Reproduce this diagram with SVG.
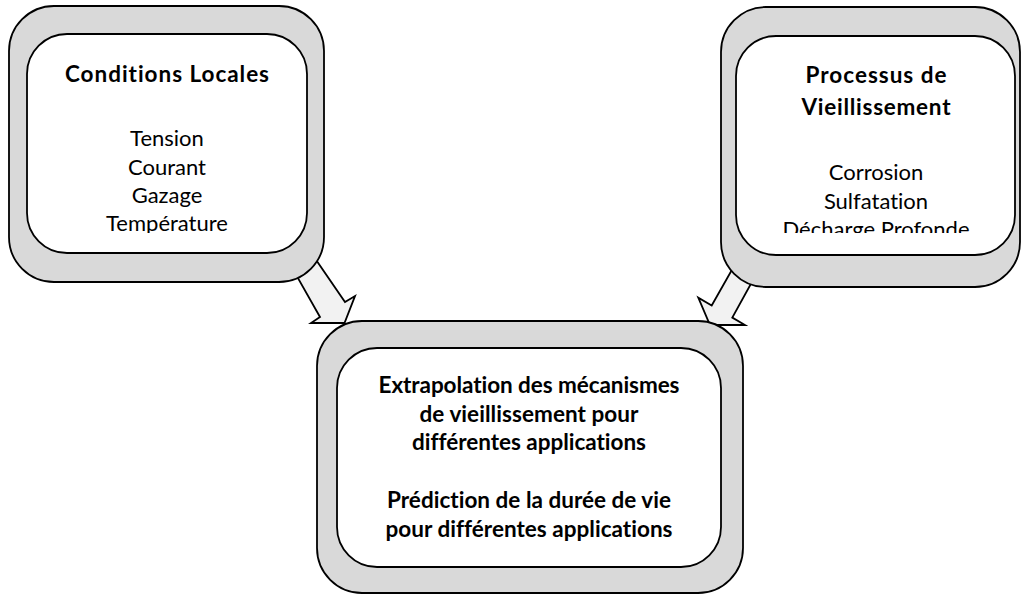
<svg xmlns="http://www.w3.org/2000/svg" width="1022" height="594" viewBox="0 0 1022 594">
  <style>
    .outer { fill: #d9d9d9; stroke: #000; stroke-width: 1.8; }
    .inner { fill: #ffffff; stroke: #000; stroke-width: 1.8; }
    .arrow { fill: #f2f2f2; stroke: #000; stroke-width: 1.8; stroke-linejoin: miter; }
    text { font-family: Lato, "Open Sans", "Liberation Sans", sans-serif; font-size: 22px; fill: #000; text-anchor: middle; font-variant-ligatures: none; }
    .b { font-weight: bold; font-size: 22.5px; }
  </style>
  <defs>
    <clipPath id="clipL"><rect x="27" y="34" width="280" height="199"/></clipPath>
    <clipPath id="clipR"><rect x="736" y="36" width="279" height="197"/></clipPath>
  </defs>
  <rect width="1022" height="594" fill="#ffffff"/>

  <g id="connectors">
    <polygon class="arrow" points="286.8,258.4 320,317 311,323 344.5,323 355,296 345,302 306.8,246.4"/>
    <polygon class="arrow" points="741.7,252.6 711.7,305.5 698.3,297.7 710,325 745,325 732.3,317.6 761.7,264.3"/>
  </g>

  <g id="node-conditions">
    <rect class="outer" x="9" y="6" width="315" height="276" rx="45" ry="45"/>
    <rect class="inner" x="27" y="34" width="280" height="219" rx="40" ry="40"/>
    <g clip-path="url(#clipL)">
      <text class="b" x="167" y="82" textLength="204">Conditions Locales</text>
      <text x="167" y="146">Tension</text>
      <text x="167" y="174.5">Courant</text>
      <text x="167" y="203">Gazage</text>
      <text x="167" y="231">Température</text>
    </g>
  </g>

  <g id="node-processus">
    <rect class="outer" x="721" y="7" width="299" height="280" rx="45" ry="45"/>
    <rect class="inner" x="736" y="36" width="279" height="219" rx="40" ry="40"/>
    <g clip-path="url(#clipR)">
      <text class="b" x="876" y="83" textLength="141">Processus de</text>
      <text class="b" x="876" y="115" textLength="149">Vieillissement</text>
      <text x="876" y="180">Corrosion</text>
      <text x="876" y="208.5">Sulfatation</text>
      <text x="876" y="237">Décharge Profonde</text>
    </g>
  </g>

  <g id="node-extrapolation">
    <rect class="outer" x="317" y="321" width="426" height="272" rx="45" ry="45"/>
    <rect class="inner" x="337" y="348" width="384" height="219" rx="40" ry="40"/>
    <text class="b" x="529" y="393" textLength="301">Extrapolation des mécanismes</text>
    <text class="b" x="529" y="421.7" textLength="219">de vieillissement pour</text>
    <text class="b" x="529" y="450.4" textLength="234">différentes applications</text>
    <text class="b" x="529" y="507.8" textLength="284">Prédiction de la durée de vie</text>
    <text class="b" x="529" y="536.5" textLength="287">pour différentes applications</text>
  </g>
</svg>
